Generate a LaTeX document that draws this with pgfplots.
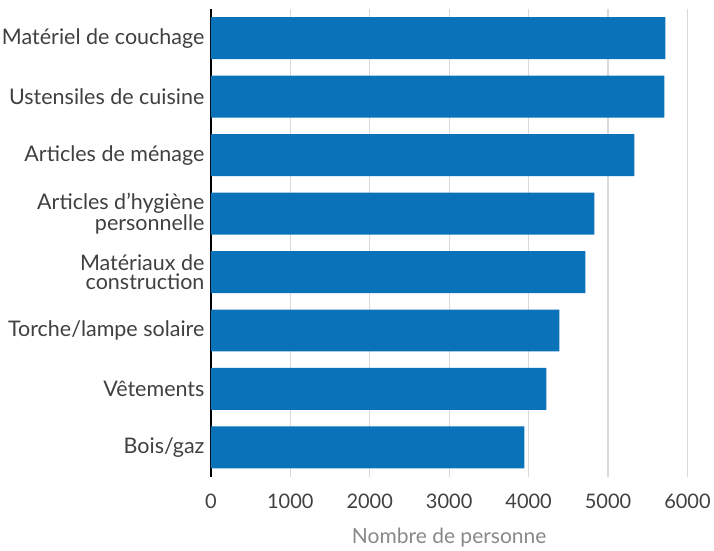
\documentclass[border=0pt]{standalone}
\usepackage{pgfplots}
\pgfplotsset{compat=1.18}
\usepackage{fontspec}
\setmainfont{Lato}
\definecolor{barblue}{RGB}{10,114,185}
\definecolor{txt}{RGB}{64,64,64}
\definecolor{gridgray}{RGB}{217,217,217}
\definecolor{lbl}{RGB}{136,136,136}
\begin{document}
\begin{tikzpicture}[x=1pt,y=1pt]
\begin{axis}[
  scale only axis,
  width=477pt, height=468pt,
  xbar, bar width=42pt,
  xmin=0, xmax=6000,
  ymin=-0.5, ymax=7.5,
  xtick={0,1000,...,6000},
  ytick={0,...,7},
  yticklabels={Bois/gaz,Vêtements,Torche/lampe solaire,{Matériaux de\\construction},{Articles d’hygiène\\personnelle},Articles de ménage,Ustensiles de cuisine,Matériel de couchage},
  yticklabel style={align=right, font=\fontsize{21.5}{19.5}\selectfont, text=txt, inner sep=2pt},
  xticklabel style={font=\fontsize{20}{22}\selectfont, text=txt, yshift=-14pt},
  /pgf/number format/assume math mode=true,
  /pgf/number format/1000 sep={},
  xmajorgrids=true, ymajorgrids=false,
  major grid style={draw=gridgray, line width=1.2pt},
  major x tick style={draw=none},
  major y tick style={draw=none},
  axis x line*=bottom, axis y line*=left,
  x axis line style={draw=none, -},
  y axis line style={black, line width=1.5pt, -},
  xlabel={Nombre de personne},
  xlabel style={font=\fontsize{21}{22}\selectfont, text=lbl, yshift=-12pt},
]
\addplot[fill=barblue, draw=none] coordinates {
(3946,0) (4223,1) (4387,2) (4714,3) (4827,4) (5330,5) (5709,6) (5722,7)};
\end{axis}
\path (current axis.north west) ++(0,9pt);
\end{tikzpicture}
\end{document}
